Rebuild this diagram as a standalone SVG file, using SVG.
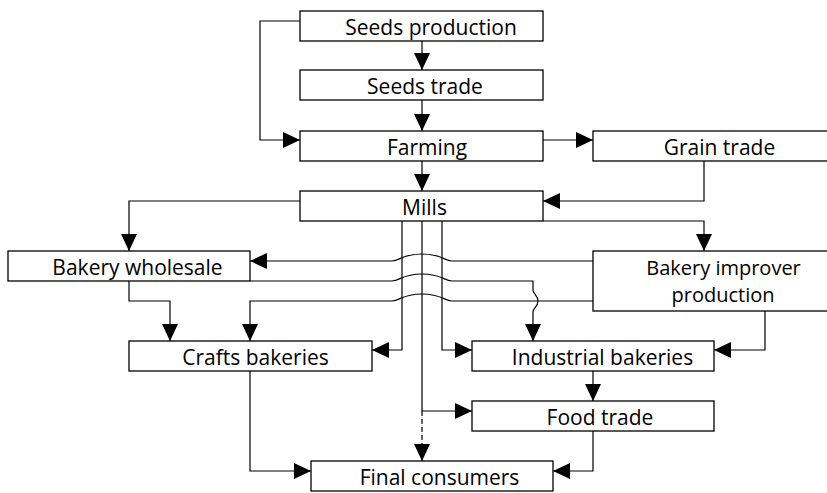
<svg xmlns="http://www.w3.org/2000/svg" width="827" height="493" viewBox="0 0 827 493">
  <style>
    .box rect { fill: #fff; stroke: #000; stroke-width: 1.3; }
    .box text { font-family: "Open Sans", "Noto Sans", "DejaVu Sans", sans-serif; font-size: 21px; fill: #000; text-anchor: middle; }
    .box text.two-line { font-size: 20px; }
    .edges path { fill: none; stroke: #000; stroke-width: 1.2; }
    .edges path.arrow { marker-end: url(#head); }
    .edges path.dashed { stroke-dasharray: 5 3; }
  </style>
  <defs>
    <marker id="head" markerUnits="userSpaceOnUse" markerWidth="17" markerHeight="16" viewBox="0 0 17 16" refX="17" refY="8" orient="auto">
      <path d="M0,0 L17,8 L0,16 Z" fill="#000"/>
    </marker>
  </defs>
  <rect width="827" height="493" fill="#fff"/>

  <!-- connectors -->
  <g id="connectors" class="edges">
    <path class="arrow" d="M422,41 V70"/>
    <path class="arrow" d="M422,100 V131"/>
    <path class="arrow" d="M300,21 H260 V140 H300"/>
    <path class="arrow" d="M543,140 H593"/>
    <path class="arrow" d="M422,161 V191"/>
    <path class="arrow" d="M704,161 V201 H543"/>
    <path class="arrow" d="M300,201 H129 V251"/>
    <path class="arrow" d="M543,221 H704 V251"/>
    <!-- flour lines leaving the mills -->
    <path class="arrow" d="M402,221 V350 H372"/>
    <path class="arrow" d="M442,221 V350 H472"/>
    <path class="arrow" d="M422,221 V411 H472"/>
    <path class="arrow dashed" d="M422,411 V461"/>
    <!-- crossing lines with bridges over the mill lines -->
    <path class="arrow" d="M593,261 H452 C444,261 442,254 422,254 C402,254 400,261 392,261 H250"/>
    <path class="arrow" d="M250,281 H392 C400,281 402,274 422,274 C442,274 444,281 452,281 H533 V290 C533,294 538,295 538,301 C538,307 533,308 533,312 V341"/>
    <path class="arrow" d="M593,301 H452 C444,301 442,294 422,294 C402,294 400,301 392,301 H250 V341"/>
    <path class="arrow" d="M129,281 V301 H170 V341"/>
    <path class="arrow" d="M765,311 V350 H714"/>
    <path class="arrow" d="M593,371 V401"/>
    <path class="arrow" d="M250,371 V471 H311"/>
    <path class="arrow" d="M593,431 V471 H553"/>
  </g>

  <!-- nodes -->
  <g id="seeds-production" class="box">
    <rect x="300" y="11" width="243" height="30"/>
    <text x="431" y="34.5">Seeds production</text>
  </g>
  <g id="seeds-trade" class="box">
    <rect x="300" y="70" width="243" height="30"/>
    <text x="425" y="93.5">Seeds trade</text>
  </g>
  <g id="farming" class="box">
    <rect x="300" y="131" width="243" height="30"/>
    <text x="427" y="154.5">Farming</text>
  </g>
  <g id="grain-trade" class="box">
    <rect x="593" y="131" width="260" height="30"/>
    <text x="719.5" y="154.5">Grain trade</text>
  </g>
  <g id="mills" class="box">
    <rect x="300" y="191" width="243" height="30"/>
    <text x="424.5" y="214.5">Mills</text>
  </g>
  <g id="bakery-wholesale" class="box">
    <rect x="8" y="251" width="242" height="30"/>
    <text x="137.5" y="274.5">Bakery wholesale</text>
  </g>
  <g id="bakery-improver-production" class="box">
    <rect x="593" y="251" width="260" height="60"/>
    <text class="two-line" x="723.5" y="274.5">Bakery improver</text>
    <text class="two-line" x="723" y="302">production</text>
  </g>
  <g id="crafts-bakeries" class="box">
    <rect x="129" y="341" width="243" height="30"/>
    <text x="255.5" y="364.5">Crafts bakeries</text>
  </g>
  <g id="industrial-bakeries" class="box">
    <rect x="472" y="341" width="242" height="30"/>
    <text x="602.5" y="364.5">Industrial bakeries</text>
  </g>
  <g id="food-trade" class="box">
    <rect x="472" y="401" width="242" height="30"/>
    <text x="600" y="424.5">Food trade</text>
  </g>
  <g id="final-consumers" class="box">
    <rect x="311" y="461" width="242" height="30"/>
    <text x="439.5" y="484.5">Final consumers</text>
  </g>
</svg>
